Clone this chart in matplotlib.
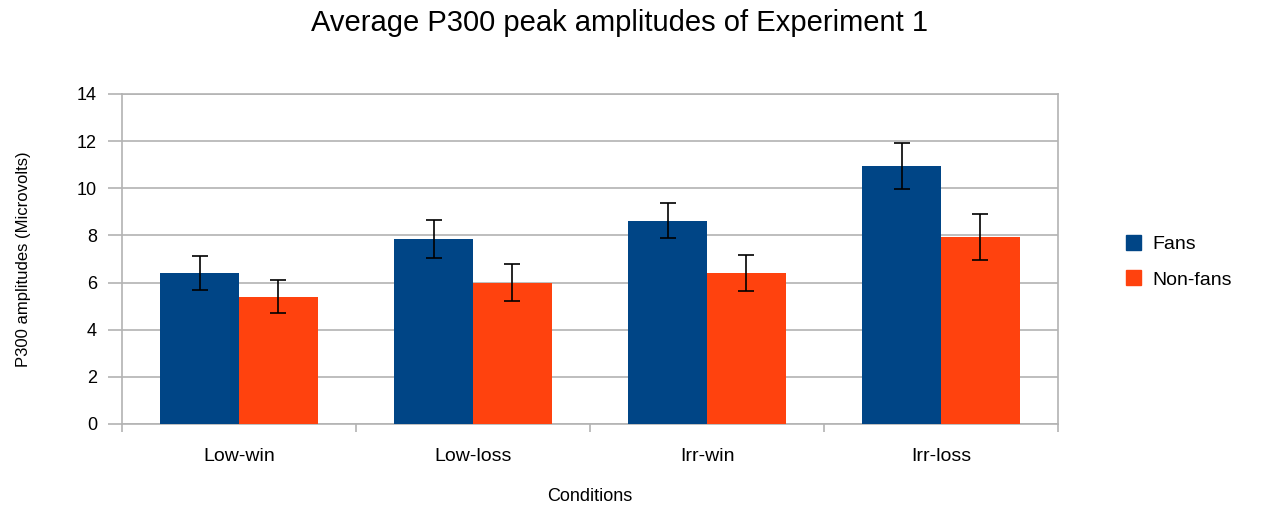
import numpy as np
import matplotlib
matplotlib.use("Agg")
import matplotlib.pyplot as plt
import matplotlib.patches as mpatches

conditions = ["Low-win", "Low-loss", "Irr-win", "Irr-loss"]
fans = [6.4, 7.85, 8.63, 10.95]
fans_err = [0.73, 0.82, 0.76, 0.96]
non_fans = [5.4, 6.0, 6.4, 7.92]
non_fans_err = [0.7, 0.8, 0.76, 0.98]

FAN_COLOR = "#004586"
NONFAN_COLOR = "#ff420e"
GRID = "#b3b3b3"

plt.rcParams["font.family"] = ["Liberation Sans", "DejaVu Sans"]

fig = plt.figure(figsize=(12.65, 5.08), dpi=100, facecolor="white")
ax = fig.add_axes([122 / 1265, 84 / 508, 936 / 1265, 330 / 508])

x = np.arange(len(conditions))
w = 0.337
err_kw = dict(ecolor="black", elinewidth=1.2, capsize=6, capthick=1.2)
ax.bar(x - w / 2, fans, w, yerr=fans_err, color=FAN_COLOR, error_kw=err_kw,
       zorder=3, label="Fans")
ax.bar(x + w / 2, non_fans, w, yerr=non_fans_err, color=NONFAN_COLOR,
       error_kw=err_kw, zorder=3, label="Non-fans")

ax.set_xlim(-0.5, len(conditions) - 0.5)
ax.set_ylim(0, 14)
ax.set_yticks(range(0, 15, 2))
ax.yaxis.grid(True, color=GRID, linewidth=1.2, zorder=0)
ax.set_axisbelow(True)

ax.set_xticks(x)
ax.set_xticklabels(conditions, fontsize=14)
ax.set_xticks(np.arange(-0.5, len(conditions)), minor=True)
ax.tick_params(axis="x", which="major", length=0, pad=17)
ax.tick_params(axis="x", which="minor", length=6, color=GRID, width=1.2)
ax.tick_params(axis="y", length=10, color=GRID, width=1.2, labelsize=13, pad=8)

for s in ax.spines.values():
    s.set_color(GRID)
    s.set_linewidth(1.2)

ax.set_xlabel("Conditions", fontsize=13, labelpad=17)
ax.set_ylabel("P300 amplitudes (Microvolts)", fontsize=12, labelpad=33)

fig.text(0.49, 0.955, "Average P300 peak amplitudes of Experiment 1",
         ha="center", va="center", fontsize=21)

handles = [mpatches.Patch(color=FAN_COLOR, label="Fans"),
           mpatches.Patch(color=NONFAN_COLOR, label="Non-fans")]
fig.legend(handles=handles, loc="center left", bbox_to_anchor=(0.876, 0.485),
           frameon=False, fontsize=14, handlelength=0.8, handleheight=0.8,
           labelspacing=0.9, handletextpad=0.6)

fig.savefig("out.png", dpi=100, facecolor="white")
